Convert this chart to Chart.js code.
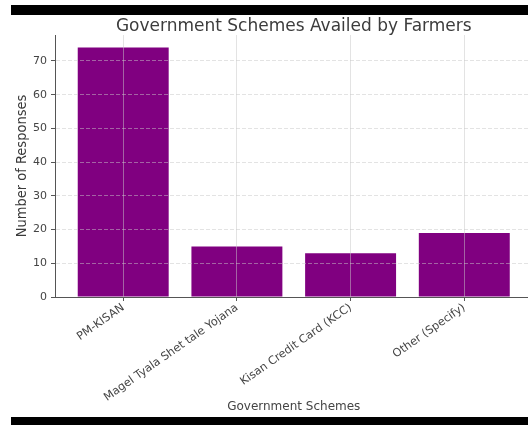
<!DOCTYPE html>
<html>
<head>
<meta charset="utf-8">
<script src="https://cdn.jsdelivr.net/npm/chart.js@4.4.1/dist/chart.umd.min.js"></script>
<style>
  html, body { margin: 0; padding: 0; background: #fff; overflow: hidden; }
  #wrap { position: relative; width: 540px; height: 425px; }
  .band { position: absolute; left: 11px; width: 529px; background: #000; }
</style>
</head>
<body>
<div id="wrap">
  <canvas id="chart"></canvas>
  <div class="band" style="top:5px;height:10px;"></div>
  <div class="band" style="top:417px;height:8px;"></div>
</div>
<script>
// Chart data
const categories = ['PM-KISAN', 'Magel Tyala Shet tale Yojana', 'Kisan Credit Card (KCC)', 'Other (Specify)'];
const responses = [74, 15, 13, 19];
const yTicks = [0, 10, 20, 30, 40, 50, 60, 70];
const yMax = 77.7;

const barColor = '#800080';
const gridColor = 'rgba(200, 200, 200, 0.5)';
const axisColor = '#555555';
const textColor = '#444444';
const font = "'DejaVu Sans', sans-serif";

const ctx = document.getElementById('chart').getContext('2d');
const chart = new Chart(ctx, {
  type: 'bar',
  data: {
    datasets: [{
      label: 'Number of Responses',
      data: responses.map((v, i) => ({ x: i, y: v })),
      backgroundColor: barColor,
      borderWidth: 0,
      barPercentage: 0.8,
      categoryPercentage: 1.0,
    }],
  },
  options: {
    responsive: true,
    maintainAspectRatio: false,
    animation: false,
    layout: { padding: { left: 0, right: 7.5, top: 0, bottom: 0 } },
    plugins: {
      legend: { display: false },
      tooltip: { enabled: false },
    },
    scales: {
      x: {
        type: 'linear',
        min: -0.6,
        max: 3.6,
        offset: false,
        afterBuildTicks: (scale) => {
          scale.ticks = categories.map((c, i) => ({ value: i }));
        },
        afterFit: (scale) => { scale.height = 128; },
        ticks: {
          includeBounds: false,
          autoSkip: false,
          minRotation: 35,
          maxRotation: 35,
          padding: 0,
          color: textColor,
          font: { family: font, size: 11.3 },
          callback: (value) => categories[value] ?? '',
        },
        grid: { offset: false, color: gridColor, z: 1, tickColor: axisColor, tickLength: 4 },
        border: { color: axisColor, width: 1, z: 2 },
        title: {
          display: true,
          text: 'Government Schemes',
          color: textColor,
          font: { family: font, size: 12 },
          padding: { top: 0, bottom: 11 },
        },
      },
      // top axis carries only the chart title, centred over the plot area
      x2: {
        type: 'linear',
        position: 'top',
        min: -0.6,
        max: 3.6,
        afterFit: (scale) => { scale.height = 35; },
        ticks: { display: false },
        grid: { display: false },
        border: { display: false },
        title: {
          display: true,
          text: 'Government Schemes Availed by Farmers',
          color: '#3c3c3c',
          font: { family: font, size: 17, weight: 'normal', lineHeight: 1.2 },
          padding: { top: 16, bottom: 0 },
        },
      },
      y: {
        min: 0,
        max: yMax,
        afterBuildTicks: (scale) => {
          scale.ticks = yTicks.map(v => ({ value: v }));
        },
        afterFit: (scale) => { scale.width = 55; },
        ticks: {
          includeBounds: false,
          padding: 4,
          color: textColor,
          font: { family: font, size: 11 },
        },
        grid: { color: gridColor, z: 1, tickColor: axisColor, tickLength: 4 },
        border: { color: axisColor, width: 1, dash: [4, 2], z: 2 },
        title: {
          display: true,
          text: 'Number of Responses',
          color: '#3a3a3a',
          font: { family: "'DejaVu Sans Condensed', 'Liberation Sans Narrow', 'DejaVu Sans', sans-serif", size: 14.5 },
          padding: { top: 14, bottom: 0 },
        },
      },
    },
  },
});
</script>
</body>
</html>
